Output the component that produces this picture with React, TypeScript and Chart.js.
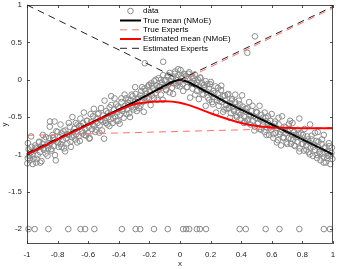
import React, { useEffect, useRef } from "react";
import { Chart, registerables } from "chart.js";

Chart.register(...registerables);

// ---- data ----
const dataX: number[] = [
  -0.998, -0.995, -0.99, -0.985, -0.98, -0.975, -0.97, -0.965, -0.958, -0.952,
  -0.947, -0.94, -0.935, -0.93, -0.922, -0.915, -0.91, -0.905, -0.898, -0.89,
  -0.885, -0.878, -0.87, -0.862, -0.855, -0.848, -0.84, -0.833, -0.826, -0.82,
  -0.812, -0.805, -0.8, -0.793, -0.786, -0.78, -0.772, -0.765, -0.758, -0.75,
  -0.743, -0.736, -0.728, -0.72, -0.713, -0.706, -0.7, -0.692, -0.685, -0.678,
  -0.67, -0.663, -0.655, -0.648, -0.64, -0.632, -0.625, -0.618, -0.61, -0.603,
  -0.596, -0.59, -0.582, -0.575, -0.568, -0.56, -0.553, -0.546, -0.54, -0.532,
  -0.525, -0.518, -0.51, -0.503, -0.496, -0.49, -0.482, -0.475, -0.468, -0.46,
  -0.453, -0.446, -0.44, -0.432, -0.425, -0.418, -0.41, -0.403, -0.396, -0.39,
  -0.382, -0.375, -0.368, -0.36, -0.353, -0.346, -0.34, -0.332, -0.325, -0.318,
  -0.31, -0.303, -0.296, -0.29, -0.282, -0.275, -0.268, -0.26, -0.253, -0.246,
  -0.24, -0.232, -0.225, -0.218, -0.21, -0.203, -0.196, -0.19, -0.182, -0.175,
  -0.168, -0.16, -0.153, -0.146, -0.14, -0.132, -0.125, -0.118, -0.11, -0.103,
  -0.096, -0.09, -0.082, -0.075, -0.068, -0.06, -0.053, -0.046, -0.04, -0.032,
  -0.025, -0.018, -0.01, -0.003, 0.004, 0.011, 0.018, 0.025, 0.032, 0.04,
  0.047, 0.054, 0.06, 0.068, 0.075, 0.082, 0.09, 0.097, 0.104, 0.11,
  0.118, 0.125, 0.132, 0.14, 0.146, 0.153, 0.16, 0.168, 0.175, 0.182,
  0.19, 0.196, 0.204, 0.21, 0.218, 0.225, 0.232, 0.24, 0.246, 0.253,
  0.26, 0.268, 0.275, 0.282, 0.29, 0.296, 0.303, 0.31, 0.318, 0.325,
  0.332, 0.34, 0.346, 0.353, 0.36, 0.368, 0.375, 0.382, 0.39, 0.396,
  0.404, 0.41, 0.418, 0.425, 0.432, 0.44, 0.446, 0.453, 0.46, 0.468,
  0.475, 0.482, 0.49, 0.496, 0.504, 0.51, 0.518, 0.525, 0.532, 0.54,
  0.546, 0.553, 0.56, 0.568, 0.575, 0.582, 0.59, 0.596, 0.604, 0.61,
  0.618, 0.625, 0.632, 0.64, 0.646, 0.653, 0.66, 0.668, 0.675, 0.682,
  0.69, 0.696, 0.704, 0.71, 0.718, 0.725, 0.732, 0.74, 0.746, 0.753,
  0.76, 0.768, 0.775, 0.782, 0.79, 0.796, 0.804, 0.81, 0.818, 0.825,
  0.832, 0.84, 0.846, 0.853, 0.86, 0.868, 0.875, 0.882, 0.89, 0.896,
  0.904, 0.91, 0.918, 0.925, 0.932, 0.94, 0.946, 0.953, 0.96, 0.968,
  0.975, 0.982, 0.99, 0.996,
  -0.23, -0.11, 0.44, 0.49, -0.45, -0.82, -0.85, 0.78, 0.85, 0.72, 0.9, 0.94,
  -0.994, -0.981, -0.973, -0.962, -0.944, -0.937, -0.921, -0.913, -0.896, -0.887,
  -0.876, -0.866, -0.851, -0.843, -0.829, -0.817, -0.808, -0.797, -0.781, -0.774,
  -0.762, -0.751, -0.739, -0.727, -0.716, -0.703, -0.694, -0.681, -0.672, -0.66,
  -0.651, -0.637, -0.628, -0.614, -0.606, -0.593, -0.584, -0.571, -0.563, -0.549,
  -0.538, -0.527, -0.516, -0.505, -0.493, -0.484, -0.472, -0.461, -0.449, -0.437,
  -0.428, -0.415, -0.406, -0.394, -0.383, -0.371, -0.362, -0.35, -0.338, -0.327,
  -0.316, -0.305, -0.293, -0.282, -0.271, -0.259, -0.248, -0.237, -0.226, -0.214,
  -0.203, -0.192, -0.181, -0.17, -0.158, -0.147, -0.136, -0.124, -0.113, -0.102,
  -0.091, -0.079, -0.068, -0.057, -0.045, -0.034, -0.023, -0.012, -0.001, 0.009,
  0.021, 0.032, 0.043, 0.055, 0.066, 0.077, 0.089, 0.1, 0.112, 0.123,
  0.134, 0.146, 0.157, 0.168, 0.18, 0.191, 0.202, 0.214, 0.225, 0.236,
  0.248, 0.259, 0.27, 0.282, 0.293, 0.304, 0.316, 0.327, 0.338, 0.35,
  0.361, 0.372, 0.384, 0.395, 0.406, 0.418, 0.429, 0.44, 0.452, 0.463,
  0.474, 0.486, 0.497, 0.508, 0.52, 0.531, 0.542, 0.554, 0.565, 0.576,
  0.588, 0.599, 0.61, 0.622, 0.633, 0.644, 0.656, 0.667, 0.678, 0.69,
  0.701, 0.712, 0.724, 0.735, 0.746, 0.758, 0.769, 0.78, 0.792, 0.803,
  0.814, 0.826, 0.837, 0.848, 0.86, 0.871, 0.882, 0.894, 0.905, 0.916,
  0.928, 0.939, 0.95, 0.962, 0.973, 0.984, 0.993,
  -0.99, -0.95, -0.86, -0.73, -0.65, -0.62, -0.56, -0.38, -0.29, -0.26, -0.17, -0.08,
  0.02, 0.04, 0.06, 0.11, 0.13, 0.17, 0.39, 0.43, 0.56, 0.65, 0.78, 0.94, 0.98,
];
const dataY: number[] = [
  -1.12, -1.05, -0.93, -1.02, -1.08, -0.97, -0.9, -1.0, -1.06, -0.95,
  -0.88, -1.11, -0.92, -1.01, -0.84, -0.97, -0.9, -1.09, -0.86, -0.94,
  -0.8, -0.99, -0.88, -0.92, -0.78, -0.85, -0.95, -0.74, -0.89, -0.81,
  -1.08, -0.83, -0.7, -0.9, -0.77, -0.86, -0.72, -0.81, -0.92, -0.68,
  -0.79, -0.85, -0.74, -0.63, -0.9, -0.77, -0.7, -0.66, -0.8, -0.73,
  -0.6, -0.76, -0.82, -0.62, -0.69, -0.58, -0.74, -0.66, -0.55, -0.71,
  -0.63, -0.78, -0.57, -0.66, -0.49, -0.62, -0.7, -0.52, -0.58, -0.45,
  -0.61, -0.54, -0.68, -0.48, -0.79, -0.55, -0.42, -0.6, -0.5, -0.37,
  -0.53, -0.46, -0.58, -0.4, -0.49, -0.33, -0.44, -0.55, -0.38, -0.47,
  -0.3, -0.42, -0.51, -0.35, -0.25, -0.4, -0.31, -0.45, -0.28, -0.36,
  -0.22, -0.4, -0.3, -0.19, -0.34, -0.26, -0.38, -0.21, -0.15, -0.3,
  -0.24, -0.12, -0.28, -0.19, -0.09, -0.25, -0.16, -0.05, -0.21, -0.12,
  -0.02, -0.18, -0.08, -0.14, 0.02, -0.1, -0.2, -0.04, 0.06, -0.09,
  -0.01, -0.13, 0.04, -0.06, 0.09, -0.02, -0.11, 0.03, -0.05, 0.11,
  0.0, -0.08, 0.06, -0.03, 0.13, 0.02, -0.06, 0.08, -0.01, 0.05,
  -0.1, 0.01, 0.1, -0.04, 0.04, -0.12, -0.02, 0.07, -0.07, -0.15,
  0.0, -0.09, 0.03, -0.13, -0.05, -0.2, -0.1, -0.02, -0.16, -0.24,
  -0.12, -0.06, -0.19, -0.3, -0.15, -0.23, -0.09, -0.27, -0.19, -0.35,
  -0.25, -0.14, -0.3, -0.22, -0.4, -0.28, -0.34, -0.2, -0.38, -0.31,
  -0.45, -0.26, -0.36, -0.42, -0.3, -0.48, -0.37, -0.44, -0.33, -0.52,
  -0.41, -0.36, -0.49, -0.56, -0.43, -0.38, -0.53, -0.47, -0.6, -0.42,
  -0.55, -0.49, -0.63, -0.51, -0.44, -0.58, -0.66, -0.53, -0.47, -0.61,
  -0.56, -0.7, -0.51, -0.64, -0.58, -0.74, -0.55, -0.67, -0.62, -0.78,
  -0.59, -0.71, -0.65, -0.81, -0.6, -0.73, -0.88, -0.68, -0.77, -0.63,
  -0.72, -0.84, -0.69, -0.78, -0.66, -0.86, -0.74, -0.8, -0.7, -0.89,
  -0.77, -0.83, -0.72, -0.92, -0.79, -0.86, -0.74, -0.95, -0.82, -0.88,
  -0.76, -0.97, -0.84, -0.91, -0.8, -1.02, -0.87, -0.94, -0.82, -1.05,
  -0.9, -0.97, -1.08, -0.86, -0.99, -1.04, -0.92, -1.11, -0.96, -1.02,
  -0.89, -1.13, -0.98, -1.06,
  0.22, 0.24, 0.36, 0.58, -0.22, -0.56, -0.56, -0.52, -0.6, -0.55, -0.7, -0.74,
  -0.85, -1.05, -0.76, -1.13, -0.91, -1.06, -0.83, -1.11, -0.74, -0.91,
  -0.77, -1.02, -0.63, -0.93, -0.78, -1.01, -0.69, -0.84, -0.6, -0.9,
  -0.69, -0.96, -0.73, -0.58, -0.83, -0.5, -0.75, -0.58, -0.84, -0.62,
  -0.52, -0.72, -0.44, -0.75, -0.55, -0.79, -0.46, -0.6, -0.39, -0.67,
  -0.46, -0.71, -0.38, -0.56, -0.28, -0.58, -0.45, -0.62, -0.34, -0.51,
  -0.25, -0.55, -0.36, -0.59, -0.25, -0.39, -0.2, -0.46, -0.27, -0.5,
  -0.2, -0.37, -0.1, -0.42, -0.24, -0.35, -0.1, -0.43, -0.15, -0.25,
  -0.07, -0.34, -0.08, -0.25, 0.0, -0.27, -0.09, 0.0, -0.27, -0.01,
  -0.14, 0.06, -0.17, 0.01, -0.19, 0.08, -0.05, 0.14, -0.09, 0.05,
  -0.15, 0.07, -0.1, 0.08, -0.24, -0.04, 0.02, -0.2, -0.04, -0.26,
  0.02, -0.19, -0.07, -0.35, -0.06, -0.27, -0.03, -0.33, -0.18, -0.44,
  -0.11, -0.29, -0.08, -0.43, -0.21, -0.39, -0.19, -0.51, -0.28, -0.4,
  -0.2, -0.5, -0.28, -0.47, -0.21, -0.58, -0.39, -0.55, -0.3, -0.48,
  -0.35, -0.68, -0.43, -0.59, -0.35, -0.67, -0.51, -0.44, -0.74, -0.49,
  -0.64, -0.46, -0.73, -0.56, -0.84, -0.51, -0.7, -0.49, -0.78, -0.64,
  -0.86, -0.59, -0.79, -0.58, -0.88, -0.74, -0.67, -0.96, -0.72, -0.86,
  -0.66, -0.94, -0.8, -1.0, -0.75, -0.9, -0.71, -1.01, -0.83, -0.99,
  -0.8, -1.11, -0.9, -1.05, -0.85, -1.02, -0.91,
  -2, -2, -2, -2, -2, -2, -2, -2, -2, -2, -2, -2,
  -2, -2, -2, -2, -2, -2, -2, -2, -2, -2, -2, -2, -2,
];

const trueMeanX: number[] = [-1, -0.8, -0.6, -0.4, -0.3, -0.2, -0.15, -0.1, -0.05, 0, 0.05, 0.1, 0.15, 0.2, 0.3, 0.4, 0.6, 0.8, 1];
const trueMeanY: number[] = [-1, -0.8, -0.6, -0.4, -0.3, -0.19, -0.135, -0.08, -0.03, 0.0, -0.03, -0.08, -0.135, -0.19, -0.3, -0.4, -0.6, -0.8, -1];

const estMeanX: number[] = [-1, -0.9, -0.8, -0.7, -0.6, -0.5, -0.4, -0.3, -0.2, -0.1, 0, 0.1, 0.2, 0.3, 0.4, 0.5, 0.6, 0.7, 0.8, 0.9, 1];
const estMeanY: number[] = [-1, -0.9, -0.8, -0.7, -0.6, -0.5, -0.41, -0.33, -0.3, -0.29, -0.31, -0.37, -0.45, -0.52, -0.58, -0.62, -0.64, -0.645, -0.65, -0.65, -0.65];

// expert lines (end points)
const trueExpert1X: number[] = [-1, 1];
const trueExpert1Y: number[] = [-1.01, 0.96];
const trueExpert2X: number[] = [-1, 1];
const trueExpert2Y: number[] = [-0.745, -0.64];
const estExpert1X: number[] = [-1, 1];
const estExpert1Y: number[] = [-0.98, 0.98];
const estExpert2X: number[] = [-1, 1];
const estExpert2Y: number[] = [1, -1];

const xTicks: number[] = [-1, -0.8, -0.6, -0.4, -0.2, 0, 0.2, 0.4, 0.6, 0.8, 1];
const xTickLabels: string[] = ["-1", "-0.8", "-0.6", "-0.4", "-0.2", "0", "0.2", "0.4", "0.6", "0.8", "1"];
const yTicks: number[] = [-2, -1.5, -1, -0.5, 0, 0.5, 1];
const yTickLabels: string[] = ["-2", "-1.5", "-1", "-0.5", "0", "0.5", "1"];

const legendLabels: string[] = ["data", "True mean (NMoE)", "True Experts", "Estimated mean (NMoE)", "Estimated Experts"];

const FONT = "'Liberation Sans', Arial, Helvetica, sans-serif";
const AXIS_COLOR = "#262626";
const DATA_COLOR = "#8c8c8c";
const TRUE_EXPERT_COLOR = "#ff7070";

const pts = (xs: number[], ys: number[]) => xs.map((x, i) => ({ x, y: ys[i] }));

const boxPlugin = {
  id: "boxTicks",
  afterDatasetsDraw(chart: any) {
    const { ctx, chartArea: a, scales } = chart;
    const xs = scales.x;
    const ys = scales.y;
    ctx.save();
    ctx.strokeStyle = AXIS_COLOR;
    ctx.lineWidth = 0.8;
    ctx.strokeRect(a.left + 0.5, a.top + 0.5, a.right - a.left - 1, a.bottom - a.top - 1);
    const tl = 3;
    ctx.beginPath();
    xTicks.forEach((v) => {
      const p = Math.round(xs.getPixelForValue(v)) + 0.5;
      ctx.moveTo(p, a.bottom);
      ctx.lineTo(p, a.bottom - tl);
      ctx.moveTo(p, a.top);
      ctx.lineTo(p, a.top + tl);
    });
    yTicks.forEach((v) => {
      const p = Math.round(ys.getPixelForValue(v)) + 0.5;
      ctx.moveTo(a.left, p);
      ctx.lineTo(a.left + tl, p);
      ctx.moveTo(a.right, p);
      ctx.lineTo(a.right - tl, p);
    });
    ctx.stroke();
    ctx.restore();
  },
  afterDraw(chart: any) {
    const { ctx } = chart;
    ctx.save();
    const x0 = 120;
    const x1 = 141;
    const tx = 143;
    const rows = [11, 20.5, 29.8, 39, 48.3];
    ctx.font = `8px ${FONT}`;
    ctx.textBaseline = "middle";
    ctx.fillStyle = "#000";
    rows.forEach((y, i) => {
      ctx.save();
      ctx.beginPath();
      if (i === 0) {
        ctx.strokeStyle = DATA_COLOR;
        ctx.lineWidth = 1;
        ctx.arc((x0 + x1) / 2, y, 2.8, 0, Math.PI * 2);
        ctx.stroke();
      } else {
        if (i === 1) { ctx.strokeStyle = "#000"; ctx.lineWidth = 2; ctx.setLineDash([]); }
        if (i === 2) { ctx.strokeStyle = TRUE_EXPERT_COLOR; ctx.lineWidth = 1; ctx.setLineDash([7, 5]); }
        if (i === 3) { ctx.strokeStyle = "#ff0000"; ctx.lineWidth = 2; ctx.setLineDash([]); }
        if (i === 4) { ctx.strokeStyle = "#222"; ctx.lineWidth = 1; ctx.setLineDash([7, 5]); }
        ctx.moveTo(x0, y);
        ctx.lineTo(x1, y);
        ctx.stroke();
      }
      ctx.restore();
      ctx.fillText(legendLabels[i], tx, y);
    });
    ctx.restore();
  },
};

export default function App() {
  const ref = useRef<HTMLCanvasElement | null>(null);
  useEffect(() => {
    document.body.style.margin = "0";
    if (!ref.current) return;
    const lineDs = (xs: number[], ys: number[], color: string, width: number, dash: number[], order: number, smooth: boolean) => ({
      type: "scatter" as const,
      data: pts(xs, ys),
      showLine: true,
      borderColor: color,
      backgroundColor: color,
      borderWidth: width,
      borderDash: dash,
      pointRadius: 0,
      pointHoverRadius: 0,
      cubicInterpolationMode: smooth ? ("monotone" as const) : ("default" as const),
      tension: 0,
      order,
      clip: 2,
    });
    const chart = new Chart(ref.current, {
      type: "scatter",
      data: {
        datasets: [
          {
            data: pts(dataX, dataY),
            borderColor: DATA_COLOR,
            backgroundColor: "rgba(0,0,0,0)",
            borderWidth: 1,
            pointRadius: 2.8,
            pointStyle: "circle",
            order: 10,
            clip: false,
          } as any,
          lineDs(trueMeanX, trueMeanY, "#000000", 2, [], 5, true),
          lineDs(trueExpert1X, trueExpert1Y, TRUE_EXPERT_COLOR, 1, [7, 5], 4, false),
          lineDs(trueExpert2X, trueExpert2Y, TRUE_EXPERT_COLOR, 1, [7, 5], 4, false),
          lineDs(estMeanX, estMeanY, "#ff0000", 2, [], 3, true),
          lineDs(estExpert1X, estExpert1Y, "#222222", 1, [7, 5], 2, false),
          lineDs(estExpert2X, estExpert2Y, "#222222", 1, [7, 5], 2, false),
        ],
      },
      options: {
        responsive: false,
        animation: false,
        events: [],
        layout: { padding: { top: 3, right: 4, left: 0, bottom: 0 } },
        plugins: { legend: { display: false }, tooltip: { enabled: false } },
        scales: {
          x: {
            type: "linear",
            position: "bottom",
            min: -1,
            max: 1,
            grid: { display: false, drawTicks: false },
            border: { display: false },
            ticks: {
              font: { size: 8, family: FONT },
              color: AXIS_COLOR,
              padding: 6,
              maxRotation: 0,
              autoSkip: false,
              callback: (v: any) => {
                const i = xTicks.findIndex((t) => Math.abs(t - Number(v)) < 1e-6);
                return i >= 0 ? xTickLabels[i] : "";
              },
            },
            afterBuildTicks: (axis: any) => {
              axis.ticks = xTicks.map((v) => ({ value: v }));
            },
            afterFit: (axis: any) => {
              axis.height = 25;
              axis.paddingLeft = 0;
              axis.paddingRight = 0;
              axis.paddingTop = 0;
              axis.paddingBottom = 0;
            },
            title: { display: true, text: "x", font: { size: 8, family: FONT }, color: AXIS_COLOR, padding: 0 },
          },
          y: {
            type: "linear",
            position: "left",
            min: -2.2,
            max: 1,
            grid: { display: false, drawTicks: false },
            border: { display: false },
            ticks: {
              font: { size: 8, family: FONT },
              color: AXIS_COLOR,
              padding: 5,
              autoSkip: false,
              callback: (v: any) => {
                const i = yTicks.findIndex((t) => Math.abs(t - Number(v)) < 1e-6);
                return i >= 0 ? yTickLabels[i] : "";
              },
            },
            afterBuildTicks: (axis: any) => {
              axis.ticks = yTicks.map((v) => ({ value: v }));
            },
            afterFit: (axis: any) => {
              axis.width = 27;
              axis.paddingLeft = 0;
              axis.paddingRight = 0;
              axis.paddingTop = 0;
              axis.paddingBottom = 0;
            },
            title: { display: true, text: "y", font: { size: 8, family: FONT }, color: AXIS_COLOR, padding: 0 },
          },
        },
      } as any,
      plugins: [boxPlugin],
    });
    return () => chart.destroy();
  }, []);
  return <canvas ref={ref} width={338} height={269} style={{ display: "block" }} />;
}
